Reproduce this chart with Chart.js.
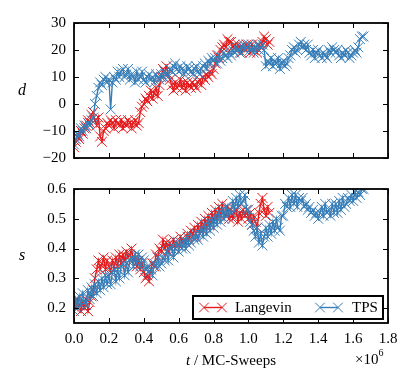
<!DOCTYPE html>
<html>
<head>
<meta charset="utf-8">
<script src="https://cdn.jsdelivr.net/npm/chart.js@4.4.0/dist/chart.umd.min.js"></script>
<style>
  html, body { margin: 0; padding: 0; background: #fff; }
  #wrap { position: relative; width: 415px; height: 386px; }
  #wrap canvas { position: absolute; left: 0; top: 0; }
</style>
</head>
<body>
<div id="wrap">
  <canvas id="topChart" width="415" height="386"></canvas>
  <canvas id="bottomChart" width="415" height="386"></canvas>
</div>
<script>
// t in units of 10^6 MC sweeps
const tTps = [
  0.00,0.01,0.02,0.03,0.04,0.05,0.06,0.07,0.08,0.09,
  0.10,0.11,0.12,0.13,0.14,0.15,0.16,0.17,0.18,0.19,
  0.20,0.21,0.22,0.23,0.24,0.25,0.26,0.27,0.28,0.29,
  0.30,0.31,0.32,0.33,0.34,0.35,0.36,0.37,0.38,0.39,
  0.40,0.41,0.42,0.43,0.44,0.45,0.46,0.47,0.48,0.49,
  0.50,0.51,0.52,0.53,0.54,0.55,0.56,0.57,0.58,0.59,
  0.60,0.61,0.62,0.63,0.64,0.65,0.66,0.67,0.68,0.69,
  0.70,0.71,0.72,0.73,0.74,0.75,0.76,0.77,0.78,0.79,
  0.80,0.81,0.82,0.83,0.84,0.85,0.86,0.87,0.88,0.89,
  0.90,0.91,0.92,0.93,0.94,0.95,0.96,0.97,0.98,0.99,
  1.00,1.01,1.02,1.03,1.04,1.05,1.06,1.07,1.08,1.09,
  1.10,1.11,1.12,1.13,1.14,1.15,1.16,1.17,1.18,1.19,
  1.20,1.21,1.22,1.23,1.24,1.25,1.26,1.27,1.28,1.29,
  1.30,1.31,1.32,1.33,1.34,1.35,1.36,1.37,1.38,1.39,
  1.40,1.41,1.42,1.43,1.44,1.45,1.46,1.47,1.48,1.49,
  1.50,1.51,1.52,1.53,1.54,1.55,1.56,1.57,1.58,1.59,
  1.60,1.61,1.62,1.63,1.64,1.65,1.66];
const dTps = [
  -15,-13,-11,-12,-9,-10,-8,-9,-7,-8,
  -6,-5,0,3,6,8,7,9,10,8,
  9,-2,8,10,9,12,10,12,13,10,
  11,13,9,11,10,8,12,9,10,12,
  9,8,10,11,9,10,8,11,10,9,
  11,10,12,11,10,13,12,14,15,13,
  12,14,13,11,12,14,13,12,11,13,
  14,12,11,13,14,15,13,16,15,17,
  16,17,15,18,16,17,19,18,17,19,
  18,20,19,21,20,19,21,22,20,21,
  22,20,21,19,21,22,20,21,22,20,
  14,16,15,17,14,16,15,17,13,15,
  16,14,15,17,18,20,21,19,20,22,
  23,21,22,20,22,19,18,20,17,19,
  20,18,17,19,18,17,20,19,21,20,
  19,20,18,17,19,18,20,19,17,18,
  19,20,19,21,24,25,25];
const sTps = [
  0.19,0.23,0.20,0.24,0.21,0.25,0.22,0.21,0.26,0.23,
  0.27,0.24,0.28,0.25,0.29,0.26,0.30,0.27,0.31,0.28,
  0.31,0.28,0.32,0.33,0.29,0.33,0.30,0.34,0.35,0.31,
  0.35,0.32,0.36,0.37,0.34,0.38,0.35,0.38,0.34,0.37,
  0.36,0.33,0.34,0.32,0.33,0.31,0.35,0.34,0.37,0.34,
  0.35,0.37,0.36,0.39,0.36,0.40,0.41,0.37,0.40,0.42,
  0.39,0.42,0.40,0.43,0.40,0.44,0.41,0.42,0.44,0.43,
  0.45,0.43,0.45,0.47,0.44,0.48,0.45,0.49,0.46,0.50,
  0.47,0.51,0.48,0.52,0.49,0.53,0.50,0.54,0.51,0.53,
  0.52,0.56,0.53,0.57,0.54,0.58,0.55,0.56,0.58,0.53,
  0.53,0.49,0.48,0.46,0.44,0.47,0.42,0.45,0.41,0.44,
  0.47,0.44,0.48,0.45,0.49,0.46,0.50,0.47,0.46,0.51,
  0.51,0.55,0.54,0.57,0.54,0.58,0.55,0.58,0.54,0.57,
  0.56,0.57,0.54,0.55,0.53,0.54,0.52,0.53,0.51,0.52,
  0.50,0.52,0.54,0.51,0.55,0.52,0.53,0.51,0.55,0.52,
  0.55,0.52,0.56,0.53,0.57,0.54,0.55,0.57,0.56,0.58,
  0.56,0.59,0.57,0.59,0.58,0.60,0.60];

const tLan = [
  0.00,0.01,0.02,0.03,0.04,0.05,0.06,0.07,0.08,0.09,
  0.10,0.11,0.12,0.13,0.14,0.15,0.16,0.17,0.18,0.19,
  0.20,0.21,0.22,0.23,0.24,0.25,0.26,0.27,0.28,0.29,
  0.30,0.31,0.32,0.33,0.34,0.35,0.36,0.37,0.38,0.39,
  0.40,0.41,0.42,0.43,0.44,0.45,0.46,0.47,0.48,0.49,
  0.50,0.51,0.52,0.53,0.54,0.55,0.56,0.57,0.58,0.59,
  0.60,0.61,0.62,0.63,0.64,0.65,0.66,0.67,0.68,0.69,
  0.70,0.71,0.72,0.73,0.74,0.75,0.76,0.77,0.78,0.79,
  0.80,0.81,0.82,0.83,0.84,0.85,0.86,0.87,0.88,0.89,
  0.90,0.91,0.92,0.93,0.94,0.95,0.96,0.97,0.98,0.99,
  1.00,1.01,1.02,1.03,1.04,1.05,1.06,1.07,1.08,1.09,
  1.10,1.11,1.12];
const dLan = [
  -16,-14,-12,-13,-10,-11,-9,-8,-6,-7,
  -4,-3,-6,-8,-5,-12,-14,-10,-9,-7,
  -8,-6,-7,-9,-6,-7,-8,-6,-9,-7,
  -8,-6,-7,-9,-7,-6,-8,-7,-3,-1,
  0,2,1,3,5,2,4,6,3,7,
  10,13,12,14,11,9,7,5,8,6,
  7,9,6,8,5,8,7,6,8,7,
  6,8,9,7,10,9,11,10,12,11,
  13,15,18,17,20,21,22,21,24,23,
  23,21,22,20,22,21,19,21,20,22,
  21,19,22,20,21,19,22,21,23,25,
  24,22,23];
const sLan = [
  0.22,0.20,0.23,0.21,0.19,0.22,0.20,0.23,0.19,0.22,
  0.24,0.26,0.30,0.33,0.36,0.33,0.35,0.37,0.33,0.36,
  0.34,0.32,0.36,0.33,0.37,0.34,0.38,0.35,0.38,0.36,
  0.39,0.37,0.38,0.40,0.36,0.37,0.34,0.36,0.33,0.35,
  0.32,0.30,0.31,0.29,0.33,0.35,0.34,0.38,0.37,0.40,
  0.39,0.43,0.40,0.42,0.39,0.42,0.40,0.43,0.40,0.42,
  0.41,0.44,0.42,0.43,0.42,0.45,0.43,0.46,0.44,0.47,
  0.44,0.48,0.45,0.49,0.46,0.50,0.47,0.51,0.48,0.52,
  0.49,0.53,0.50,0.54,0.51,0.55,0.52,0.51,0.54,0.50,
  0.53,0.50,0.52,0.53,0.49,0.52,0.50,0.53,0.51,0.53,
  0.50,0.52,0.48,0.51,0.49,0.47,0.52,0.55,0.57,0.53,
  0.51,0.54,0.52];

const tTicks = [0, 0.2, 0.4, 0.6, 0.8, 1.0, 1.2, 1.4, 1.6, 1.8];
const dTicks = [-20, -10, 0, 10, 20, 30];
const sTicks = [0.2, 0.3, 0.4, 0.5, 0.6];

const RED = "#e41a1c";
const BLUE = "#377eb8";
const FONT = "'Liberation Serif', 'DejaVu Serif', serif";

function points(xs, ys) {
  return xs.map((x, i) => ({ x, y: ys[i] }));
}

function series(label, xs, ys, color, order) {
  return {
    label,
    data: points(xs, ys),
    borderColor: color,
    backgroundColor: color,
    borderWidth: 1.4,
    pointStyle: "crossRot",
    pointRadius: 7,
    pointBorderWidth: 1,
    pointBorderColor: color,
    tension: 0,
    order
  };
}

function fixedTicks(list) {
  return scale => { scale.ticks = list.map(v => ({ value: v })); };
}

// frame + inward ticks on all four sides, like the matplotlib classic style
const frameTicks = {
  id: "frameTicks",
  afterDraw(chart) {
    const { ctx, chartArea: a, scales } = chart;
    const L = 5;
    ctx.save();
    ctx.strokeStyle = "#000";
    ctx.lineWidth = 1;
    ctx.beginPath();
    scales.x.ticks.forEach(t => {
      const px = Math.round(scales.x.getPixelForValue(t.value)) + 0.5;
      ctx.moveTo(px, a.top); ctx.lineTo(px, a.top + L);
      ctx.moveTo(px, a.bottom); ctx.lineTo(px, a.bottom - L);
    });
    scales.y.ticks.forEach(t => {
      const py = Math.round(scales.y.getPixelForValue(t.value)) + 0.5;
      ctx.moveTo(a.left, py); ctx.lineTo(a.left + L, py);
      ctx.moveTo(a.right, py); ctx.lineTo(a.right - L, py);
    });
    ctx.stroke();
    ctx.lineWidth = 1.8;
    ctx.strokeRect(a.left, a.top, a.right - a.left, a.bottom - a.top);

    const opts = chart.options.plugins.frameTicks || {};
    ctx.fillStyle = "#000";
    ctx.textBaseline = "middle";
    ctx.textAlign = "center";
    if (opts.yTitle) {
      ctx.font = "italic 16px " + FONT;
      ctx.fillText(opts.yTitle, 22, (a.top + a.bottom) / 2);
    }
    if (opts.xTitle) {
      ctx.textAlign = "left";
      ctx.font = "italic 15px " + FONT;
      const w1 = ctx.measureText("t").width;
      ctx.font = "15px " + FONT;
      const rest = " / MC-Sweeps";
      const w2 = ctx.measureText(rest).width;
      const x0 = 231 - (w1 + w2) / 2;
      ctx.font = "italic 15px " + FONT;
      ctx.fillText("t", x0, 361);
      ctx.font = "15px " + FONT;
      ctx.fillText(rest, x0 + w1, 361);
      // offset label
      ctx.fillText("\u00d710", 355, 360);
      const wm = ctx.measureText("\u00d710").width;
      ctx.font = "10px " + FONT;
      ctx.fillText("6", 355 + wm, 353);
    }
    ctx.restore();
  }
};

// legend box in the lower right of the bottom panel
const boxLegend = {
  id: "boxLegend",
  afterDraw(chart) {
    if (!chart.options.plugins.boxLegend) return;
    const ctx = chart.ctx;
    const x0 = 193, y0 = 296, w = 190, h = 23;
    ctx.save();
    ctx.fillStyle = "#fff";
    ctx.fillRect(x0, y0, w, h);
    ctx.strokeStyle = "#000";
    ctx.lineWidth = 2;
    ctx.strokeRect(x0, y0, w, h);
    const cy = y0 + h / 2;
    const entries = [
      { ds: chart.data.datasets[0], x: 204, tx: 235 },
      { ds: chart.data.datasets[1], x: 320, tx: 352 }
    ];
    entries.forEach(e => {
      ctx.strokeStyle = e.ds.borderColor;
      ctx.lineWidth = 1.4;
      ctx.beginPath();
      ctx.moveTo(e.x, cy); ctx.lineTo(e.x + 18, cy);
      ctx.stroke();
      ctx.lineWidth = 1;
      [e.x, e.x + 18].forEach(mx => {
        const r = 4.8;
        ctx.beginPath();
        ctx.moveTo(mx - r, cy - r); ctx.lineTo(mx + r, cy + r);
        ctx.moveTo(mx - r, cy + r); ctx.lineTo(mx + r, cy - r);
        ctx.stroke();
      });
      ctx.fillStyle = "#000";
      ctx.font = "15px " + FONT;
      ctx.textBaseline = "middle";
      ctx.textAlign = "left";
      ctx.fillText(e.ds.label, e.tx, cy + 1);
    });
    ctx.restore();
  }
};

function yAxis(min, max, ticks, fmt) {
  return {
    type: "linear",
    min, max,
    afterBuildTicks: fixedTicks(ticks),
    afterFit: s => { s.width = 74; },
    grid: { display: false, drawTicks: false },
    border: { display: false },
    ticks: {
      padding: 8,
      color: "#000",
      font: { family: FONT, size: 15 },
      callback: fmt
    }
  };
}

function xAxis(showLabels) {
  const axis = {
    type: "linear",
    min: 0, max: 1.8,
    display: showLabels,
    afterBuildTicks: fixedTicks(tTicks),
    grid: { display: false, drawTicks: false },
    border: { display: false },
    ticks: {
      padding: 7,
      maxRotation: 0,
      autoSkip: false,
      color: "#000",
      font: { family: FONT, size: 15 },
      callback: v => Number(v).toFixed(1)
    }
  };
  if (showLabels) axis.afterFit = s => { s.height = 30; };
  return axis;
}

const common = {
  responsive: false,
  animation: false,
  events: [],
  plugins: { legend: { display: false }, tooltip: { enabled: false } }
};

new Chart(document.getElementById("topChart"), {
  type: "line",
  data: {
    datasets: [
      series("Langevin", tLan, dLan, RED, 1),
      series("TPS", tTps, dTps, BLUE, 0)
    ]
  },
  options: {
    ...common,
    layout: { padding: { top: 23, right: 27, bottom: 228, left: 0 } },
    scales: {
      x: xAxis(false),
      y: yAxis(-20, 30, dTicks, v => String(v).replace("-", "\u2212"))
    },
    plugins: { ...common.plugins, frameTicks: { yTitle: "d" } }
  },
  plugins: [frameTicks]
});

new Chart(document.getElementById("bottomChart"), {
  type: "line",
  data: {
    datasets: [
      series("Langevin", tLan, sLan, RED, 1),
      series("TPS", tTps, sTps, BLUE, 0)
    ]
  },
  options: {
    ...common,
    layout: { padding: { top: 189, right: 27, bottom: 33, left: 0 } },
    scales: {
      x: xAxis(true),
      y: yAxis(0.15, 0.6, sTicks, v => Number(v).toFixed(1))
    },
    plugins: { ...common.plugins, frameTicks: { yTitle: "s", xTitle: true }, boxLegend: true }
  },
  plugins: [frameTicks, boxLegend]
});
</script>
</body>
</html>
